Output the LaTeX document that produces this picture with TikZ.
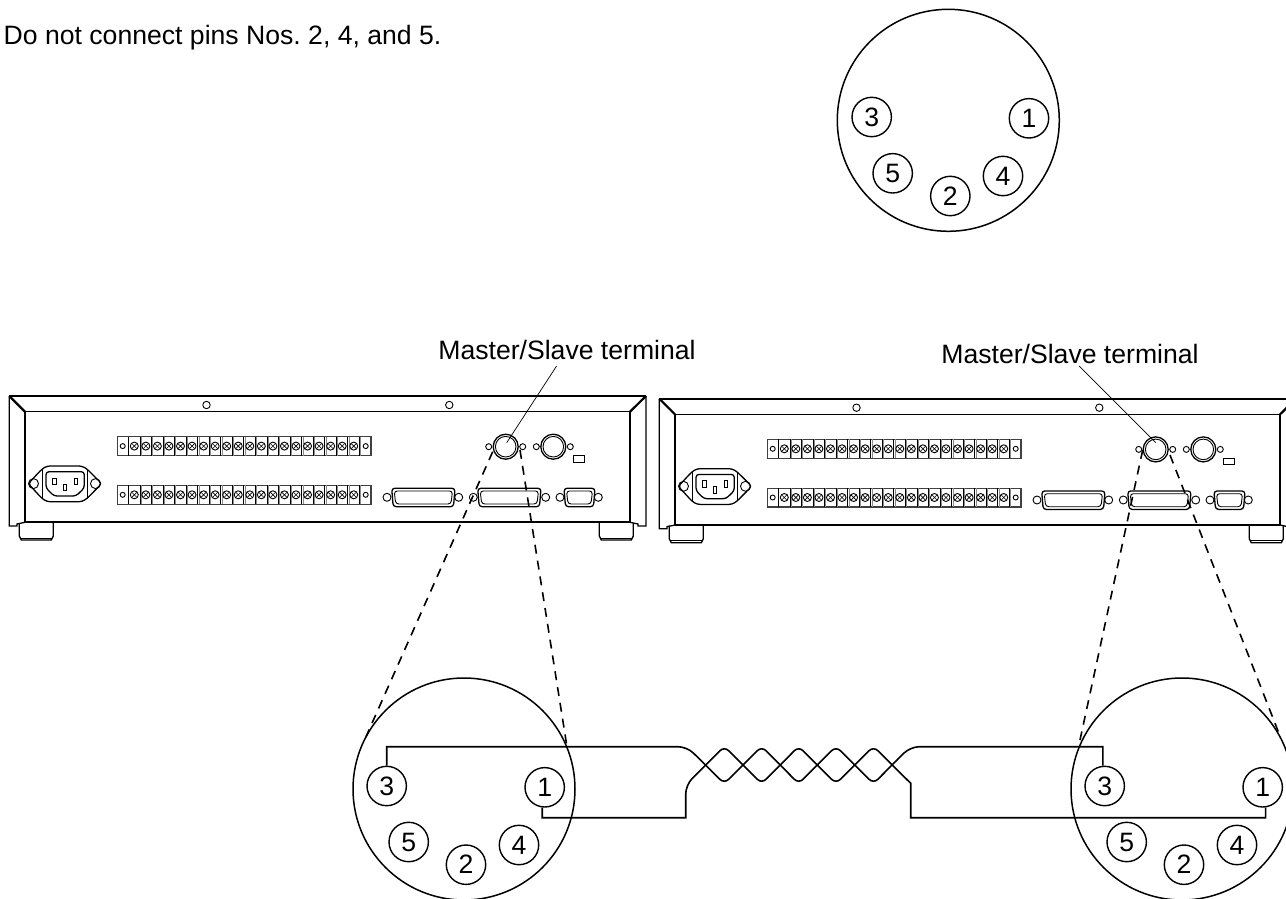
\documentclass[tikz,border=0pt]{standalone}
\usepackage{fontspec}
\setmainfont{Liberation Sans}
\frenchspacing
\newcommand{\hole}[2]{\draw[thinln] (#1) circle[radius=#2pt];}
\newcommand{\stripcells}[1]{%
  \draw[line width=1.2pt,black!75] (117.3,#1) rectangle (371,#1+18.8);
  \draw[line width=1pt] (128.5,#1) -- (128.5,#1+18.8);
  \hole{122.7,#1+9.4}{2.5}
  \foreach \k in {0,...,19}{
    \pgfmathsetmacro{\sx}{134.3+11.55*\k}
    \draw[line width=1pt,black!45] (\sx+7,#1) -- (\sx+7,#1+18.8);
    \draw[line width=1pt] (\sx+5.7,#1) -- (\sx+5.7,#1+18.8);
    \draw[thinln] (\sx,#1+9.4) circle[radius=4pt];
    \draw[line width=.6pt] (\sx-2.5,#1+6.9) -- (\sx+2.5,#1+11.9) (\sx-2.5,#1+11.9) -- (\sx+2.5,#1+6.9);
  }
  \hole{365.7,#1+9.4}{2.5}
}
\newcommand{\dsub}[4]{% left, right, hole left, hole right
  \draw[midln,rounded corners=3pt] (#1,488.3) -- (#2,488.3) -- (#2-1.5,506.7) -- (#1+1.5,506.7) -- cycle;
  \draw[thinln,rounded corners=3pt] (#1+2.5,491) -- (#2-2.5,491) -- (#2-4,504) -- (#1+4,504) -- cycle;
  \draw[thinln,fill=white] (#3,497.3) circle[radius=4pt];
  \draw[thinln,fill=white] (#4,497.3) circle[radius=4pt];
}
\newcommand{\din}[1]{%
  \draw[midln] (#1,446.7) circle[radius=12.5pt];
  \draw[thinln] (#1,446.7) circle[radius=10.3pt];
  \hole{#1-17,446.7}{3}
  \hole{#1+17,446.7}{3}
}
\newcommand{\rearpanel}{%
  \draw[line width=2.2pt,line join=round] (9.3,396) -- (646,396);
  \draw[midln] (9.3,396) -- (9.3,526) -- (17,526) -- (17,524) -- (25,522.3);
  \draw[midln] (646,396) -- (646,526) -- (638,526) -- (638,524) -- (630,522.3);
  \draw[line width=2.2pt] (9.3,396) -- (25,411.7);
  \draw[line width=2.2pt] (646,396) -- (630,411.7);
  \draw[midln] (25,411.7) -- (630,411.7) -- (630,522.3);
  \draw[midln] (25,411.7) -- (25,522.3);
  \draw[line width=1.8pt] (25,522.3) -- (630,522.3);
  \foreach \fa/\fb in {19.3/53.3,599.3/633.3}{
    \draw[midln] (\fa,523) -- (\fa,536) -- (\fa+2,540) -- (\fb-2,540) -- (\fb,536) -- (\fb,523);
    \draw[thinln] (\fa+1.5,538) -- (\fb-1.5,538);
  }
  \hole{206.5,405}{3.7}
  \hole{449.3,405}{3.7}
  \stripcells{436.7}
  \stripcells{485.4}
  % AC inlet
  \draw[midln,rounded corners=3pt] (28.3,483.6) -- (42,469) -- (47,466) -- (82,466) -- (87,469) -- (101.7,483.6) -- (87,498.5) -- (82,501.7) -- (47,501.7) -- (42,498.5) -- cycle;
  \draw[thinln] (42,469) -- (42,498.5) (87,469) -- (87,498.5);
  \draw[midln,rounded corners=3pt] (46,471.7) -- (84.3,471.7) -- (84.3,488) -- (76,496) -- (54,496) -- (46,488) -- cycle;
  \hole{33.5,483.6}{5}
  \hole{95.5,483.6}{5}
  \draw[thinln] (52.8,478) rectangle (56,484.5) (74.5,478) rectangle (77.7,484.5) (63.7,484) rectangle (66.9,490.5);
  \din{505.7}
  \din{553.3}
  \draw[thinln] (573.3,455.7) rectangle (584.3,462);
  \dsub{391.7}{455}{387}{458.7}
  \dsub{477.7}{541}{473.3}{545.7}
  \dsub{564}{595}{560}{598.3}
}
\tikzset{
  thinln/.style={line width=.9pt},
  midln/.style={line width=1.3pt},
  lens/.style={line width=1.5pt},
  pin/.style={circle,draw,line width=1.4pt,minimum size=39.4pt,inner sep=0pt,font=\fontsize{26.6}{28}\selectfont},
  wire/.style={line width=1.6pt},
  zoomline/.style={line width=1.6pt,dash pattern=on 9pt off 7pt},
  leader/.style={line width=.7pt},
  lbl/.style={font=\fontsize{26.6}{28}\selectfont,inner sep=0pt},
}
\begin{document}
\begin{tikzpicture}[x=1pt,y=-1pt]
\useasboundingbox (0,0) rectangle (1286,899);
\node[lbl,anchor=base west] (note) at (3.5,45) {Do not connect pins Nos. 2, 4, and 5.};
% top connector
\node[circle,draw,lens,minimum size=222pt,inner sep=0pt] (ct) at (948.3,120.3) {};
\foreach \n/\px/\py in {3/871.7/117,1/1029/118.3,5/892.7/173.3,2/950.3/196,4/1003/176}{
  \node[pin] (t\n) at (\px,\py) {\n};
}
% panels
\rearpanel
\begin{scope}[shift={(650,2.7)}]
\rearpanel
\end{scope}
\node[lbl,anchor=base] (labA) at (567,359.3) {Master/Slave terminal};
\node[lbl,anchor=base] (labB) at (1070,363.3) {Master/Slave terminal};
\coordinate (mA) at (506.7,442.7);
\coordinate (mB) at (1155.7,442.7);
\coordinate (sA) at (556.6,366);
\coordinate (sB) at (1079,366);
\draw[leader] (sA) -- (mA);
\draw[leader] (sB) -- (mB);
% lower connectors
\node[circle,draw,lens,minimum size=222pt,inner sep=0pt] (cl) at (464,789) {};
\node[circle,draw,lens,minimum size=222pt,inner sep=0pt] (cr) at (1182,789) {};
\foreach \n/\dx/\dy in {3/-77.3/-3,1/80.7/-1.7,5/-55.3/53,2/2/75.7,4/55/56}{
  \node[pin] (l\n) at (464+\dx,789+\dy) {\n};
  \node[pin] (r\n) at (1182+\dx,789+\dy) {\n};
}
% dashed zoom lines
\coordinate (dA1) at (492.7,451.7);
\coordinate (dA2) at (520,450);
\coordinate (dB1) at (1142.7,450);
\coordinate (dB2) at (1170,455);
\coordinate (eA1) at (366,736.7);
\coordinate (eA2) at (566.7,745);
\coordinate (eB1) at (1080,740);
\coordinate (eB2) at (1278.3,731.7);
\draw[zoomline] (dA1) -- (eA1);
\draw[zoomline] (dA2) -- (eA2);
\draw[zoomline] (dB1) -- (eB1);
\draw[zoomline] (dB2) -- (eB2);
% twisted pair
\coordinate (wa) at (687,746.7);
\coordinate (wb) at (685.7,785);
\coordinate (wc) at (910.3,746.7);
\coordinate (wd) at (910.7,783.3);
\draw[wire,line join=miter] (l3.north) -- (l3.north |- wa) [rounded corners=9pt] -- (wa) [rounded corners=6pt]
  -- (724.3,783.65) -- (761.7,746.35) -- (798.7,783.65) -- (836,746.35) -- (873.5,783.65) [rounded corners=9pt] -- (wc) [sharp corners] -- (r3.95 |- wc) -- (r3.95);
\draw[wire,line join=miter] (l1.263) |- (685.7,817.7) [rounded corners=9pt] -- (wb) [rounded corners=6pt]
  -- (724.3,746.35) -- (761.7,783.65) -- (798.7,746.35) -- (836,783.65) -- (873.5,746.35) [sharp corners] -- (wd) -- (910.7,817.7) -| (r1.278);
\end{tikzpicture}
\end{document}
